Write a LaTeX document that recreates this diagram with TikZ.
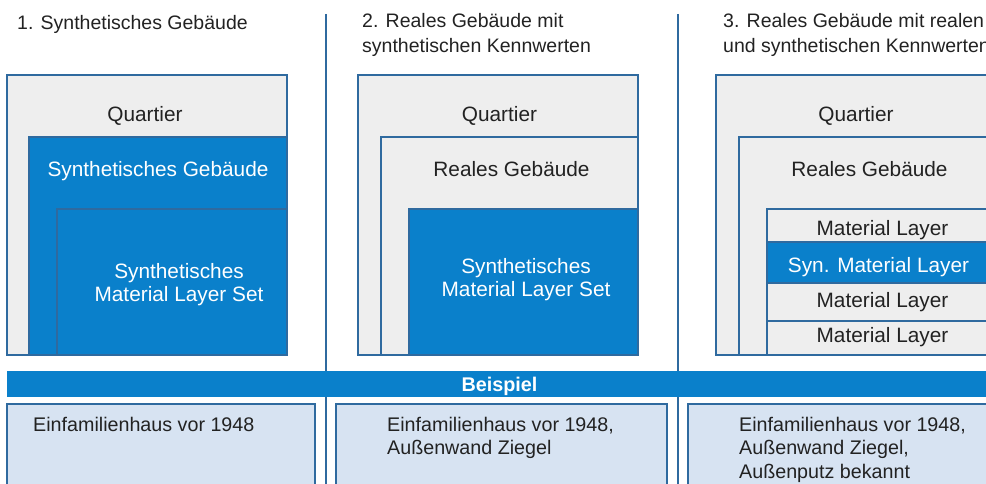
\documentclass[tikz,border=0pt]{standalone}
\usepackage{fontspec}
\setmainfont{Liberation Sans}
\definecolor{edgeblue}{HTML}{2F6A9F}
\definecolor{synblue}{HTML}{0A80CB}
\definecolor{realgray}{HTML}{EEEEEE}
\definecolor{examplefill}{HTML}{D7E3F2}
\definecolor{inktext}{HTML}{222222}
\tikzset{
  realbox/.style={fill=realgray, draw=edgeblue, line width=1.4pt},
  synbox/.style={fill=synblue, draw=edgeblue, line width=1.4pt},
  examplebox/.style={fill=examplefill, draw=edgeblue, line width=1.4pt},
  divider/.style={draw=edgeblue, line width=1.4pt},
  % multi-line nodes sit on the baseline of their last line
  lbl/.style={anchor=base, inner sep=0pt, text=inktext, font=\fontsize{20.8}{23.5}\selectfont, align=center},
  synlbl/.style={lbl, text=white},
  headlbl/.style={anchor=base west, inner sep=0pt, text=inktext, font=\fontsize{19.5}{24.5}\selectfont, align=left},
  examplelbl/.style={anchor=base west, inner sep=0pt, text=inktext, font=\fontsize{19.7}{23.5}\selectfont, align=left},
}
\begin{document}
\begin{tikzpicture}[x=1pt, y=-1pt]
\useasboundingbox (0,0) rectangle (986,484);
\clip (0,0) rectangle (986,484);

% column dividers
\coordinate (d1top) at (326,14);
\coordinate (d1bot) at (326,490);
\coordinate (d2top) at (678,14);
\coordinate (d2bot) at (678,490);
\draw[divider] (d1top) -- (d1bot);
\draw[divider] (d2top) -- (d2bot);

% headings
\node[headlbl] (h1) at (17,30) {1. Synthetisches Gebäude};
\node[headlbl] (h2) at (362,52.5) {2. Reales Gebäude mit\\synthetischen Kennwerten};
\node[headlbl] (h3) at (723,52.5) {3. Reales Gebäude mit realen\\und synthetischen Kennwerten};

% column 1: synthetic building
\path[realbox] (7,75) rectangle (287,355);
\path[synbox] (29,137) rectangle (287,355);
\path[synbox] (57,209) rectangle (287,355);
\node[lbl] (q1) at (145,122) {Quartier};
\node[synlbl] (g1) at (158,177) {Synthetisches Gebäude};
\node[synlbl] (m1) at (179,301.5) {Synthetisches\\Material Layer Set};

% column 2: real building, synthetic values
\path[realbox] (358,75) rectangle (638,355);
\path[realbox] (381,137) rectangle (638,355);
\path[synbox] (409,209) rectangle (638,355);
\node[lbl] (q2) at (499.5,122) {Quartier};
\node[lbl] (g2) at (511.5,177) {Reales Gebäude};
\node[synlbl] (m2) at (526,296.5) {Synthetisches\\Material Layer Set};

% column 3: real building, real and synthetic values
\path[realbox] (716,75) rectangle (996,355);
\path[realbox] (739,137) rectangle (996,355);
\path[realbox] (767,209) rectangle (996,242);
\path[synbox] (767,242) rectangle (996,283);
\path[realbox] (767,283) rectangle (996,321);
\path[realbox] (767,321) rectangle (996,355);
\node[lbl] (q3) at (856,122) {Quartier};
\node[lbl] (g3) at (869.5,177) {Reales Gebäude};
\node[lbl] (l1) at (882.5,236) {Material Layer};
\node[synlbl] (l2) at (878.5,272) {Syn. Material Layer};
\node[lbl] (l3) at (882.5,307) {Material Layer};
\node[lbl] (l4) at (882.5,342) {Material Layer};

% example bar
\fill[synblue] (7,371) rectangle (996,397);
\node[anchor=base, inner sep=0pt, text=white, font=\fontsize{19.8}{22}\selectfont\bfseries] (bsp) at (499.5,391) {Beispiel};

% example boxes
\path[examplebox] (7,404) rectangle (315,500);
\path[examplebox] (336,404) rectangle (667,500);
\path[examplebox] (688,404) rectangle (1000,500);
\node[examplelbl] (e1) at (33,431) {Einfamilienhaus vor 1948};
\node[examplelbl] (e2) at (387,454.5) {Einfamilienhaus vor 1948,\\Außenwand Ziegel};
\node[examplelbl] (e3) at (739,478) {Einfamilienhaus vor 1948,\\Außenwand Ziegel,\\Außenputz bekannt};
\end{tikzpicture}
\end{document}
